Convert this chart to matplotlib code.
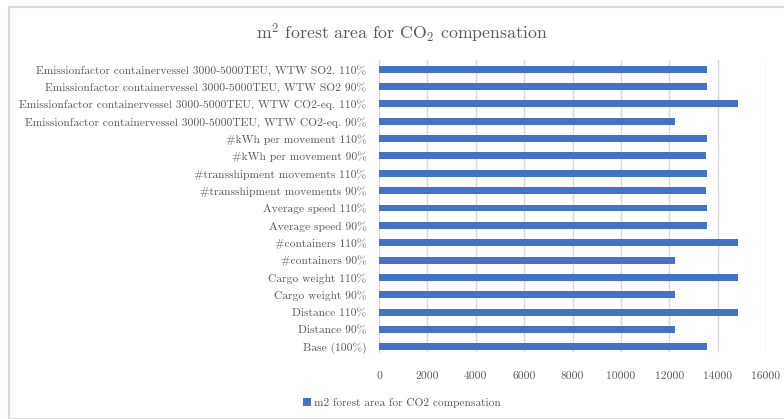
import numpy as np
import matplotlib
matplotlib.use("Agg")
import matplotlib.pyplot as plt
from matplotlib.patches import Rectangle

plt.rcParams['font.family'] = ['cmr10', 'DejaVu Serif']
plt.rcParams['mathtext.fontset'] = 'cm'
plt.rcParams['axes.formatter.use_mathtext'] = True

# scenarios, bottom to top
labels = [
    "Base (100%)",
    "Distance 90%",
    "Distance 110%",
    "Cargo weight 90%",
    "Cargo weight 110%",
    "#containers 90%",
    "#containers 110%",
    "Average speed 90%",
    "Average speed 110%",
    "#transshipment movements 90%",
    "#transshipment movements 110%",
    "#kWh per movement 90%",
    "#kWh per movement 110%",
    "Emissionfactor containervessel 3000-5000TEU, WTW CO2-eq. 90%",
    "Emissionfactor containervessel 3000-5000TEU, WTW CO2-eq. 110%",
    "Emissionfactor containervessel 3000-5000TEU, WTW SO2 90%",
    "Emissionfactor containervessel 3000-5000TEU, WTW SO2. 110%",
]
forest_m2 = [13560, 12250, 14860, 12250, 14860, 12250, 14860, 13560, 13560,
             13530, 13560, 13530, 13560, 12250, 14860, 13560, 13560]
xticks = [0, 2000, 4000, 6000, 8000, 10000, 12000, 14000, 16000]

bar_color = '#4472C4'
text_color = '#595959'

fig = plt.figure(figsize=(7.84, 4.19), dpi=100)
fig.patches.append(Rectangle((9/784, 0), 2, 1 - 7/419, transform=fig.transFigure,
                             fill=False, edgecolor='#D9D9D9', lw=1.5))

ax = fig.add_axes([379/784, 1 - 352/419, (766 - 379)/784, (352 - 60)/419])
y = np.arange(len(labels))
ax.barh(y, forest_m2, height=0.4, color=bar_color,
        label="m2 forest area for CO2 compensation", zorder=3)

ax.set_xlim(0, 16000)
ax.set_ylim(-0.29, 16.52)
ax.set_xticks(xticks)
ax.set_xticklabels([str(v) for v in xticks])
ax.set_yticks(y)
ax.set_yticklabels(labels)
ax.tick_params(axis='both', length=0, labelsize=8.3, colors=text_color)
ax.tick_params(axis='x', pad=14)
ax.tick_params(axis='y', pad=9)
ax.grid(axis='x', color='#D9D9D9', lw=1, zorder=0)
for s in ['top', 'right', 'bottom']:
    ax.spines[s].set_visible(False)
ax.spines['left'].set_color('#D9D9D9')

fig.text(402/784, 1 - 33/419, r"m$^2$ forest area for CO$_2$ compensation",
         ha='center', va='center', fontsize=12.8, color=text_color)

fig.legend(loc='center', bbox_to_anchor=(402/784, 1 - 403/419), frameon=False,
           fontsize=8.2, labelcolor=text_color, handlelength=0.7, handleheight=0.7,
           handletextpad=0.3)

fig.savefig("out.png", dpi=100)
